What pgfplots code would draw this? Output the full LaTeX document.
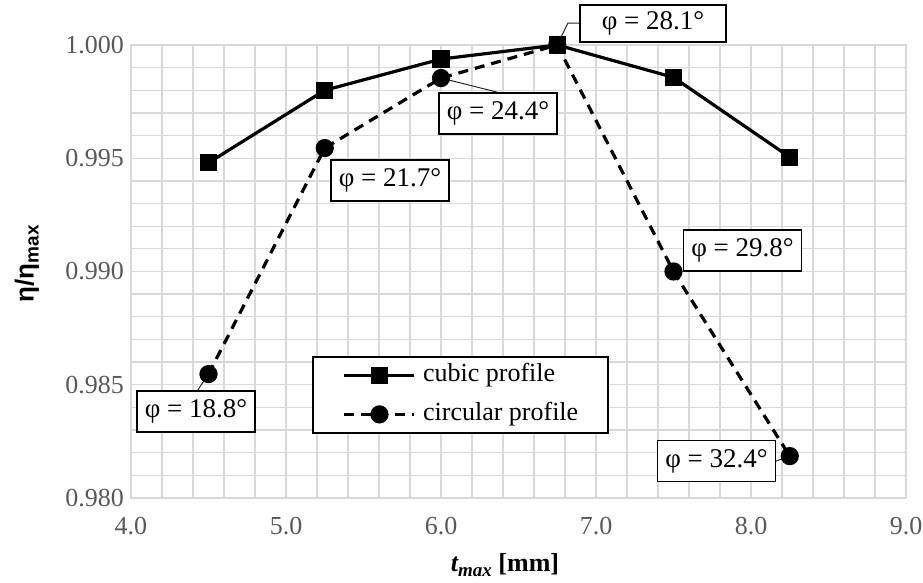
\documentclass[border=0pt]{standalone}
\usepackage{fontspec}
\setmainfont{Liberation Serif}
\setsansfont{Liberation Sans}
\usepackage{pgfplots}
\usepackage{pgfplotstable}
\pgfplotsset{compat=1.18}

\definecolor{gridgray}{HTML}{D9D9D9}
\definecolor{ticktext}{HTML}{595959}

% efficiency ratio over maximum thickness
\pgfplotstableread{
x y
4.50 0.99480
5.25 0.99800
6.00 0.99938
6.75 1.00000
7.50 0.99857
8.25 0.99505
}\cubicdata
\pgfplotstableread{
x y
4.50 0.98547
5.25 0.99545
6.00 0.99854
6.75 1.00000
7.50 0.99000
8.25 0.98185
}\circulardata

\tikzset{
  philabel/.style={draw=black, line width=0.9pt, fill=white,
    font=\fontsize{13.5}{16}\selectfont, minimum width=59pt,
    minimum height=20.5pt, inner sep=0pt},
  leader/.style={draw=black!85, line width=0.5pt}
}

\begin{document}
\begin{tikzpicture}
\begin{axis}[
  scale only axis, width=387.5pt, height=226.5pt,
  xmin=4, xmax=9, ymin=0.98, ymax=1.0,
  xtick={4,5,6,7,8,9},
  ytick={0.980,0.985,0.990,0.995,1.000},
  minor x tick num=4, minor y tick num=4,
  grid=both,
  major grid style={gridgray, line width=0.65pt},
  minor grid style={gridgray, line width=0.65pt},
  axis line style={gridgray, line width=0.65pt},
  major tick length=0pt, minor tick length=0pt,
  scaled ticks=false,
  /pgf/number format/assume math mode=true,
  tick label style={font=\fontsize{13}{15}\selectfont, text=ticktext},
  xticklabel style={/pgf/number format/.cd, fixed, fixed zerofill, precision=1, /tikz/.cd, yshift=-6pt},
  yticklabel style={/pgf/number format/.cd, fixed, fixed zerofill, precision=3},
  xlabel={\bfseries\itshape t\raisebox{-0.35ex}{\fontsize{9.5}{10}\selectfont max} \upshape[mm]},
  xlabel style={font=\fontsize{13}{15}\selectfont, at={(axis description cs:0.4826,0)}, anchor=center, yshift=-33.5pt},
  ylabel={\sffamily\bfseries η/η\raisebox{-0.35ex}{\fontsize{9.5}{10}\selectfont max}},
  ylabel style={font=\fontsize{13}{15}\selectfont, at={(axis description cs:-0.1342,0.517)}, anchor=center},
  clip=false,
  legend cell align=left,
  legend style={at={(rel axis cs:0.2335,0.3135)}, anchor=north west,
    draw=black, line width=0.9pt, fill=white,
    font=\fontsize{13}{15}\selectfont,
    inner xsep=15pt, inner ysep=3.25pt, row sep=7.5pt, column sep=3.5pt,
    nodes={inner sep=0pt, text height=9pt, text depth=3pt},
    column 2/.style={nodes={text width=80pt}}},
  legend image code/.code={\draw[#1, mark repeat=2, mark phase=2]
    plot coordinates {(0pt,0pt) (17.5pt,0pt) (35pt,0pt)};},
]
\coordinate (bbsw) at (rel axis cs:0,0);
\coordinate (bbne) at (rel axis cs:1,1);

% leader lines to the angle labels
\draw[leader] (axis cs:6.75,1.0) -- (axis cs:6.819,1.00097) -- (axis cs:6.897,1.00097);
\draw[leader] (axis cs:6.0,0.99854) -- (axis cs:6.361,0.99792);
\draw[leader] (axis cs:4.5,0.98547) -- (axis cs:4.426,0.98472);
\draw[leader] (axis cs:8.161,0.98163) -- (axis cs:8.25,0.98185);

\addplot[black, line width=1.6pt, mark=square*, mark size=3.5pt,
  mark options={solid}] table[x=x, y=y] {\cubicdata};
\addlegendentry{cubic profile}
\addplot[black, line width=1.6pt, dash pattern=on 5pt off 3.5pt,
  mark=*, mark size=3.75pt, mark options={solid}] table[x=x, y=y] {\circulardata};
\addlegendentry{circular profile}

% blade angle labels
\node[philabel, minimum width=73pt, minimum height=18.5pt] at (axis cs:7.368,1.00095) {φ = 28.1°};
\node[philabel] at (axis cs:6.368,0.99698) {φ = 24.4°};
\node[philabel] at (axis cs:5.671,0.99402) {φ = 21.7°};
\node[philabel] at (axis cs:4.419,0.98382) {φ = 18.8°};
\node[philabel] at (axis cs:7.945,0.99093) {φ = 29.8°};
\node[philabel] at (axis cs:7.777,0.98163) {φ = 32.4°};
\end{axis}
\pgfresetboundingbox
\path ([shift={(-65.5pt,-42pt)}]bbsw) rectangle ([shift={(8.5pt,22.5pt)}]bbne);
\end{tikzpicture}
\end{document}
